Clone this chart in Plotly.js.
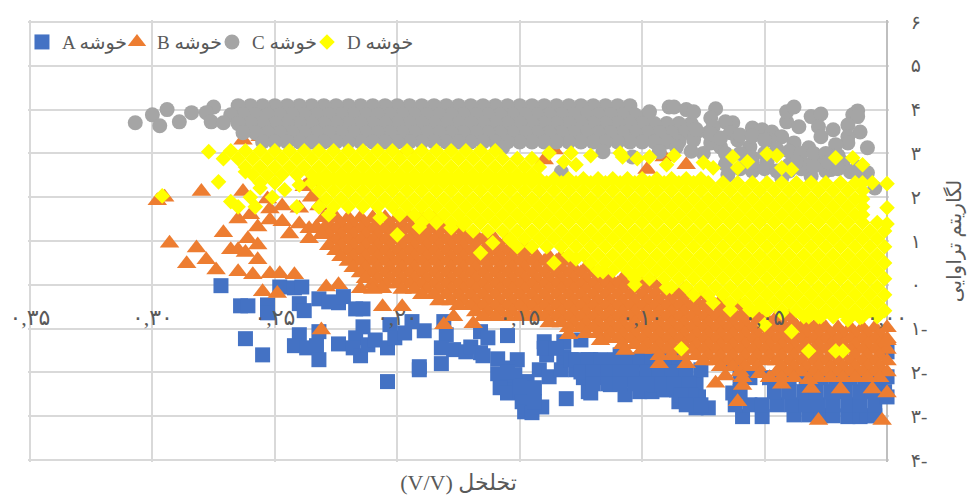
<!DOCTYPE html>
<html><head><meta charset="utf-8">
<script src="https://cdn.plot.ly/plotly-3.0.1.min.js"></script>
<style>html,body{margin:0;padding:0;background:#fff}</style></head>
<body><div id="chart" style="width:969px;height:495px"></div>
<script>
const seriesNames=["A خوشه","B خوشه","C خوشه","D خوشه"];
const xTickVals=[0.35,0.30,0.25,0.20,0.15,0.10,0.05,0];
const xTickText=["۰,۳۵","۰,۳۰","۰,۲۵","۰,۲۰","۰,۱۵","۰,۱۰","۰,۰۵","۰,۰۰"];
const yTickVals=[6,5,4,3,2,1,0,-1,-2,-3,-4];
const yTickText=["۶","۵","۴","۳","۲","۱","۰","۱-","۲-","۳-","۴-"];
const xTitle="(V/V) تخلخل";
const yTitle="لگاریتم تراوایی";

const pointsA=[[.272,-.02],[.264,-.48],[.261,-.48],[.253,-.46],[.253,-.64],[.24,-.43],[.238,-.59],[.232,-.32],[.228,-.39],[.224,-.41],[.222,-.27],[.217,-.55],[.214,-.55],[.248,-.05],[.242,-.07],[.239,-.05],[.24,-1.14],[.232,-1.07],[.262,-1.23],[.255,-1.6],[.242,-1.39],[.237,-1.44],[.233,-1.39],[.232,-1.71],[.224,-1.35],[.214,-.96],[.217,-1.21],[.218,-1.44],[.215,-1.62],[.212,-1.37],[.209,-1.26],[.204,-1.44],[.203,-.91],[.201,-1.21],[.197,-1.1],[.194,-.84],[.189,-1.05],[.191,-1.87],[.191,-1.94],[.182,-1.8],[.204,-2.21],[.18,-1.14],[.182,-1.44],[.181,-.84],[.177,-1.48],[.172,-1.53],[.17,-1.42],[.166,-1.55],[.166,-1.07],[.155,-1.16],[.163,-1.21],[.165,-1.62],[.151,-1.71],[.159,-1.69],[.159,-2.03],[.155,-2.21],[.158,-2.35],[.155,-2.47],[.15,-2.44],[.149,-2.67],[.148,-2.9],[.145,-2.92],[.141,-2.79],[.144,-2.67],[.147,-2.21],[.144,-2.35],[.142,-1.94],[.138,-2.1],[.14,-1.3],[.139,-1.6],[.133,-1.94],[.131,-2.6],[.132,-1.3],[.132,-1.64],[.129,-1.71],[.125,-1.26],[.127,-1.94],[.124,-2.12],[.122,-2.44],[.121,-1.71],[.121,-2.47],[.119,-1.87],[.117,-2.12],[.115,-1.83],[.113,-2.28],[.112,-2.01],[.109,-1.6],[.107,-2.17],[.107,-2.51],[.104,-1.78],[.102,-2.12],[.101,-2.44],[.099,-1.71],[.096,-2.44],[.095,-2.01],[.095,-2.28],[.093,-1.71],[.091,-2.4],[.088,-1.78],[.084,-2.1],[.086,-2.4],[.085,-2.67],[.078,-2.24],[.076,-1.94],[.077,-2.56],[.078,-2.81],[.073,-2.81],[.063,-1.78],[.063,-2.47],[.06,-2.12],
[.127,-1.71],[.122,-1.71],[.117,-1.71],[.111,-1.71],[.106,-1.71],[.101,-1.71],[.096,-1.71],[.09,-1.71],[.085,-1.71],
[.125,-1.99],[.12,-1.99],[.114,-1.99],[.109,-1.99],[.104,-1.99],[.098,-1.99],[.093,-1.99],[.088,-1.99],[.082,-1.99],
[.12,-2.26],[.114,-2.26],[.109,-2.26],[.103,-2.26],[.098,-2.26],[.092,-2.26],[.087,-2.26],[.081,-2.26],
[.08,-2.51],[.084,-2.51],[.082,-2.74],[.076,-2.74],[.14,-1.45],[.135,-1.45],[.155,-1.9],[.152,-2.05],[.15,-2.3],[.155,-2.0],
[.059,-3.01],[.051,-3.01],[.038,-2.97],[.032,-2.97],[.027,-2.99],[.022,-2.99],[.016,-3.01],[.011,-3.01],[.008,-2.99],[.005,-2.99],
[.062,-2.74],[.056,-2.74],[.051,-2.74],[.045,-2.74],[.039,-2.74],[.033,-2.74],[.028,-2.74],[.022,-2.74],[.016,-2.74],[.011,-2.74],[.005,-2.74],
[.06,-2.44],[.046,-2.44],[.04,-2.44],[.034,-2.44],[.029,-2.44],[.023,-2.44],[.017,-2.44],[.011,-2.44],[.006,-2.44],[.001,-2.44],
[.056,-2.12],[.048,-2.12],[.04,-2.12],[.033,-2.12],[.027,-2.12],[.021,-2.12],[.015,-2.12],[.009,-2.12],[.003,-2.12],[0,-2.1],[0,-2.56],[0,-1.53]];

const singlesB=[[.298,1.92],[.295,2.0],[.28,2.13],[.263,2.13],[.293,.95],[.282,.84],[.271,1.19],[.265,1.5],[.26,1.6],[.252,1.73],[.252,1.48],[.247,1.44],[.244,1.16],[.261,1.05],[.257,1.32],[.257,.91],[.24,1.39],[.236,1.28],[.236,1.05],[.233,1.32],[.268,.8],[.265,.8],[.247,1.8],[.253,1.96],[.236,2.35],[.238,2.24],[.231,1.14],[.286,.48],[.278,.57],[.274,.34],[.265,.3],[.259,.23],[.252,.25],[.248,.25],[.242,.23],[.255,-.16],[.249,-.2],[.231,-1.03],[.229,-.05],[.224,0],[.215,-.09],[.206,-.5],[.198,-.5],[.206,-.09],[.21,-.11],[.181,-.91],[.177,-.73],[.169,-.89],[.262,.74],[.257,.57],[.263,3.3],[.256,3.38],[.231,3.24],[.196,3.08],[.136,3.08],[.14,2.85],[.082,2.74],[.098,2.63],[.091,2.92],[.235,2.0],[.24,1.75],[.232,1.8],[.061,-2.67],[.028,-3.1],[.002,-3.1],[.031,-2.37],[.07,-2.25],[.059,-2.3],[.059,-2.12],[.052,-2.03],[.043,-2.27],[.032,-2.17],[.019,-2.38],[.006,-2.38],[0,-2.47],[0,-1.28],[.066,-2.08],[.093,-1.8],[.082,-1.8],[.107,-1.5],[.117,-1.28],[.13,-1.14]];
const rowsB=[
[1.53,[.185,.19,.195,.2,.205,.21,.215,.22,.225,.23]],
[1.39,[.178,.183,.188,.193,.198,.203,.208,.213,.218,.223,.228]],
[1.28,[.175,.18,.185,.19,.195,.2,.205,.21,.215,.22,.225,.23]],
[1.14,[.163,.168,.173,.178,.183,.188,.193,.198,.203,.208,.213,.218,.223,.228]],
[1.03,[.155,.16,.165,.17,.175,.18,.185,.19,.195,.2,.205,.21,.215,.22,.225]],
[.89,[.148,.153,.158,.163,.168,.173,.178,.183,.188,.193,.198,.203,.208,.213,.218,.223,.228]],
[.78,[.145,.15,.155,.16,.165,.17,.175,.18,.185,.19,.195,.2,.205,.21,.215,.22,.225]],
[.64,[.133,.138,.143,.148,.153,.158,.163,.168,.173,.178,.183,.188,.193,.198,.203,.208,.213,.218,.223]],
[.53,[.13,.135,.14,.145,.15,.155,.16,.165,.17,.175,.18,.185,.19,.195,.2,.205,.21,.215,.22]],
[.39,[.123,.128,.133,.138,.143,.148,.153,.158,.163,.168,.173,.178,.183,.188,.193,.198,.203,.208,.213,.218]],
[.27,[.115,.12,.125,.13,.135,.14,.145,.15,.155,.16,.165,.17,.175,.18,.185,.19,.195,.2,.205,.21,.215]],
[.14,[.103,.108,.113,.118,.123,.128,.133,.138,.143,.148,.153,.158,.163,.168,.173,.178,.183,.188,.193,.198,.203,.208,.213]],
[.02,[.095,.1,.105,.11,.115,.12,.125,.13,.135,.14,.145,.15,.155,.16,.165,.17,.175,.18,.185,.19,.195,.2,.205,.21]],
[-.11,[.083,.088,.093,.098,.103,.108,.113,.118,.123,.128,.133,.138,.143,.148,.153,.158,.163,.168,.173,.178,.183,.188,.193,.198]],
[-.23,[.075,.08,.085,.09,.095,.1,.105,.11,.115,.12,.125,.13,.135,.14,.145,.15,.155,.16,.165,.17,.175,.18,.185,.19]],
[-.37,[.068,.073,.078,.083,.088,.093,.098,.103,.108,.113,.118,.123,.128,.133,.138,.143,.148,.153,.158,.163,.168,.173,.178,.183]],
[-.48,[.06,.065,.07,.075,.08,.085,.09,.095,.1,.105,.11,.115,.12,.125,.13,.135,.14,.145,.15,.155,.16,.165,.17,.175]],
[-.62,[.053,.058,.063,.068,.073,.078,.083,.088,.093,.098,.103,.108,.113,.118,.123,.128,.133,.138,.143,.148,.153,.158,.163,.168]],
[-.73,[.04,.045,.05,.055,.06,.065,.07,.075,.08,.085,.09,.095,.1,.105,.11,.115,.12,.125,.13,.135,.14,.145,.15,.155,.16,.165]],
[-.87,[.028,.033,.038,.043,.048,.053,.058,.063,.068,.073,.078,.083,.088,.093,.098,.103,.108,.113,.118,.123,.128,.133,.138]],
[-.98,[0,.005,.01,.015,.02,.025,.03,.035,.04,.045,.05,.055,.06,.065,.07,.075,.08,.085,.09,.095,.1,.105,.11,.115,.12,.125,.13]],
[-1.12,[.003,.008,.013,.018,.023,.028,.033,.038,.043,.048,.053,.058,.063,.068,.073,.078,.083,.088,.093,.098,.103,.108,.113,.118,.123]],
[-1.23,[0,.005,.01,.015,.02,.025,.03,.035,.04,.045,.05,.055,.06,.065,.07,.075,.08,.085,.09,.095,.1,.105,.11,.115]],
[-1.37,[.003,.008,.013,.018,.023,.028,.033,.038,.043,.048,.053,.058,.063,.068,.073,.078,.083,.088,.093,.098,.103,.108]],
[-1.48,[0,.005,.01,.015,.02,.025,.03,.035,.04,.045,.05,.055,.06,.065,.07,.075,.08,.085,.09,.095,.1]],
[-1.62,[.003,.008,.013,.018,.023,.028,.033,.038,.043,.048,.053,.058,.063,.068,.073,.078,.083,.088,.093]],
[-1.74,[0,.005,.01,.015,.02,.025,.03,.035,.04,.045,.05,.055,.06,.065,.07,.075]],
[-1.87,[.003,.008,.013,.018,.023,.028,.033,.038,.043,.053,.058,.063,.068]],
[-1.99,[0,.005,.01,.015,.02,.025,.03,.035,.04,.045,.06]],
[-2.12,[.003,.008,.013,.018,.023,.028,.038,.043,.048]]];

const singlesC=[[.307,3.7],[.3,3.88],[.297,3.63],[.294,4.0],[.289,3.72],[.284,3.93],[.275,4.06],[.278,3.93],[.276,3.72],[.271,3.7],[.089,4.06],[.087,4.06],[.082,4],[.079,3.95],[.07,4.02],[.072,3.81],[.063,3.7],[.066,3.72],[.071,3.61],[.064,3.47],[.055,3.58],[.051,3.54],[.047,3.49],[.043,3.38],[.038,3.24],[.041,3.72],[.036,3.61],[.041,3.95],[.038,4.06],[.031,3.84],[.027,3.9],[.028,3.61],[.027,3.38],[.022,3.54],[.032,3.13],[.012,3.97],[.014,3.88],[.012,3.84],[.016,3.65],[.011,3.49],[.016,3.38],[.016,3.24],[.021,3.2],[.008,3.13],[.037,2.9],[.032,2.74],[.027,2.79],[.018,2.79],[.012,2.69],[.008,2.56],[.005,2.21],[.031,2.47],[.043,2.44],[.065,2.51],[.049,2.79],[.072,3.24],[.079,3.31],[.086,3.15],[.093,3.04],[.104,2.92],[.116,3.04],[.157,3.13],[.133,2.58],[.068,3.15],[.056,3.15],[.061,3.31],[.048,3.31],[.097,3.95],[.04,2.74],[.023,2.63],[.015,2.58],
[.072,3.45],[.078,3.55],[.068,3.35],[.06,3.42],[.055,3.4],[.05,3.3],[.066,3.0],[.06,3.0],[.055,2.9],[.045,3.1],[.04,3.05],[.035,3.0],[.03,3.0],[.025,3.0],[.02,2.95],[.05,3.0],[.075,3.0],[.08,3.05],
[.06,2.65],[.055,2.6],[.05,2.65],[.045,2.6],[.04,2.6],[.035,2.65],[.03,2.7],[.025,2.6],[.02,2.65],[.012,2.55],[.066,2.75],[.055,2.8],[.037,2.8],[.024,2.8]];
const rowsC=[
[4.09,[.105,.11,.115,.12,.125,.13,.135,.14,.145,.15,.155,.16,.165,.17,.175,.18,.185,.19,.195,.2,.205,.21,.215,.22,.225,.23,.235,.24,.245,.25,.255,.26,.265]],
[3.88,[.098,.103,.108,.113,.118,.123,.128,.133,.138,.143,.148,.153,.158,.163,.168,.173,.178,.183,.188,.193,.198,.203,.208,.213,.218,.223,.228,.233,.238,.243,.248,.253,.258,.263,.268]],
[3.68,[.08,.085,.09,.095,.1,.105,.11,.115,.12,.125,.13,.135,.14,.145,.15,.155,.16,.165,.17,.175,.18,.185,.19,.195,.2,.205,.21,.215,.22,.225,.23,.235,.24,.245,.25,.255,.26,.265]],
[3.47,[.073,.078,.083,.088,.093,.098,.103,.108,.113,.118,.123,.128,.133,.138,.143,.148,.153,.158,.163,.168,.173,.178,.183,.188,.193,.198,.203,.208,.213,.218,.223,.228,.233,.238,.243,.248,.253,.258,.263]],
[3.26,[.085,.09,.095,.1,.105,.11,.115,.12,.125,.13,.135,.14,.145,.15,.155,.16,.165,.17,.175,.18,.185,.19,.195,.2,.205,.21,.215,.22,.225,.23,.235,.24,.245,.25,.255]]];

const singlesD=[[.296,2.03],[.277,3.04],[.273,2.35],[.268,1.9],[.265,1.78],[.258,1.78],[.26,2.0],[.251,2.0],[.256,2.21],[.241,1.78],[.262,2.58],[.246,2.17],[.24,2.28],[.2,1.14],[.228,1.6],[.207,1.53],[.191,1.32],[.178,1.3],[.173,1.37],[.166,.73],[.161,.96],[.154,1.03],[.127,.59],[.136,.5],[.116,.3],[.103,.23],[.103,0],[.09,-.07],[.071,-.41],[.064,-.57],[.056,-.57],[.051,-.5],[.05,-.91],[.043,-.64],[.039,-1.07],[.032,-.73],[.027,-.73],[.084,-1.46],[.032,-1.51],[.021,-1.51],[.018,-1.51],[.016,-.8],[.011,-.75],[.138,3.01],[.132,2.81],[.129,3.01],[.121,2.95],[.127,2.74],[.109,3.01],[.108,2.92],[.102,2.88],[.097,2.92],[.087,2.95],[.09,2.74],[.075,2.79],[.071,2.67],[.063,2.92],[.061,2.67],[.057,2.81],[.049,2.99],[.045,2.95],[.043,2.67],[.039,2.63],[.021,2.9],[.014,2.9],[.01,2.74],[.006,2.33],[0,2.31],[0,1.76],[0,1.39]];
const rowsD=[
[3.06,[.16,.166,.172,.178,.184,.19,.196,.202,.208,.214,.22,.226,.232,.238,.244,.25,.256,.262,.268]],
[2.88,[.145,.151,.157,.163,.169,.175,.181,.187,.193,.199,.205,.211,.217,.223,.229,.235,.241,.247,.253,.259,.265,.271]],
[2.69,[.142,.148,.154,.16,.166,.172,.178,.184,.19,.196,.202,.208,.214,.22,.226,.232,.238,.244,.25,.256,.262]],
[2.51,[.145,.151,.157,.163,.169,.175,.181,.187,.193,.199,.205,.211,.217,.223,.229,.235,.241,.247,.253,.259]],
[2.42,[.076,.082,.088,.094,.1,.106,.112,.118,.124,.13,.136,.142,.148,.154,.16,.166,.172,.178,.184,.19,.196,.202,.208,.214,.22,.226,.232]],
[2.33,[.01,.013,.019,.025,.031,.037,.043,.049,.055,.061,.067,.073,.079,.085,.091,.097,.103,.109,.115,.121,.127,.133,.139,.145,.151,.157,.163,.169,.175,.181,.187,.193,.199,.205,.211,.217,.223,.229,.235,.25,.256]],
[2.15,[.01,.016,.022,.028,.034,.04,.046,.052,.058,.064,.07,.076,.082,.088,.094,.1,.106,.112,.118,.124,.13,.136,.142,.148,.154,.16,.166,.172,.178,.184,.19,.196,.202,.208,.214,.22,.226,.232]],
[1.96,[.01,.013,.019,.025,.031,.037,.043,.049,.055,.061,.067,.073,.079,.085,.091,.097,.103,.109,.115,.121,.127,.133,.139,.145,.151,.157,.163,.169,.175,.181,.187,.193,.199,.205,.211,.217,.223,.229]],
[1.78,[.01,.016,.022,.028,.034,.04,.046,.052,.058,.064,.07,.076,.082,.088,.094,.1,.106,.112,.118,.124,.13,.136,.142,.148,.154,.16,.166,.172,.178,.184,.19,.196,.202,.208,.214,.22,.226,.232]],
[1.6,[.01,.013,.019,.025,.031,.037,.043,.049,.055,.061,.067,.073,.079,.085,.091,.097,.103,.109,.115,.121,.127,.133,.139,.145,.151,.157,.163,.169,.175,.181,.187,.193,.199]],
[1.42,[.004,.01,.016,.022,.028,.034,.04,.046,.052,.058,.064,.07,.076,.082,.088,.094,.1,.106,.112,.118,.124,.13,.136,.142,.148,.154,.16,.166,.172,.178,.184,.19]],
[1.23,[.001,.007,.013,.019,.025,.031,.037,.043,.049,.055,.061,.067,.073,.079,.085,.091,.097,.103,.109,.115,.121,.127,.133,.139,.145,.151,.157,.163,.169]],
[1.05,[.004,.01,.016,.022,.028,.034,.04,.046,.052,.058,.064,.07,.076,.082,.088,.094,.1,.106,.112,.118,.124,.13,.136,.142,.148,.154]],
[.87,[.001,.007,.013,.019,.025,.031,.037,.043,.049,.055,.061,.067,.073,.079,.085,.091,.097,.103,.109,.115,.121,.127,.133,.139,.145,.151]],
[.68,[.004,.01,.016,.022,.028,.034,.04,.046,.052,.058,.064,.07,.076,.082,.088,.094,.1,.106,.112,.118,.124,.13]],
[.5,[.001,.007,.013,.019,.025,.031,.037,.043,.049,.055,.061,.067,.073,.079,.085,.091,.097,.103,.109,.115,.121]],
[.32,[.004,.01,.016,.022,.028,.034,.04,.046,.052,.058,.064,.07,.076,.082,.088,.094,.1,.106,.112,.118]],
[.14,[.001,.007,.013,.019,.025,.031,.037,.043,.049,.055,.061,.067,.073,.079,.085,.091,.097,.103]],
[-.05,[.004,.01,.016,.022,.028,.034,.04,.046,.052,.058,.064,.07,.076,.082,.088]],
[-.23,[.001,.007,.013,.019,.025,.031,.037,.043,.049,.055,.061,.067,.073,.079]],
[-.41,[.004,.01,.016,.022,.028,.034,.04,.046,.052,.058,.064]],
[-.59,[.001,.007,.013,.019,.025,.031,.037,.043,.049,.055]],
[-.73,[.004,.01,.016,.022,.028,.034]]];

const expand=(rows)=>rows.flatMap(([y,xs])=>xs.map(x=>[x,y]));
const toTrace=(pts,name,symbol,size,color)=>({type:'scatter',mode:'markers',name,cliponaxis:false,
  x:pts.map(p=>p[0]),y:pts.map(p=>p[1]),marker:{symbol,size,color,line:{width:0}}});
const traces=[
 toTrace(pointsA,seriesNames[0],'square',15,'#4472c4'),
 toTrace(expand(rowsB).concat(singlesB),seriesNames[1],'triangle-up',17,'#ed7d31'),
 toTrace(expand(rowsC).concat(singlesC),seriesNames[2],'circle',15,'#a5a5a5'),
 toTrace(expand(rowsD).concat(singlesD),seriesNames[3],'diamond',12,'#ffff00')];
const textFont={family:'"Liberation Serif","DejaVu Serif","DejaVu Sans",serif',size:19,color:'#595959'};
const layout={width:969,height:495,margin:{l:28,r:80,t:20,b:33},paper_bgcolor:'#fff',plot_bgcolor:'#fff',
 font:textFont,showlegend:true,
 legend:{orientation:'h',x:-0.007,xanchor:'left',y:0.993,yanchor:'top',bgcolor:'rgba(0,0,0,0)',font:textFont,
   entrywidth:50,entrywidthmode:'pixels',itemwidth:30,traceorder:'normal',tracegroupgap:0},
 xaxis:{range:[0.3508,-0.0008],tickmode:'array',tickvals:xTickVals,ticktext:xTickText,anchor:'free',position:0.362,layer:'above traces',
   showgrid:true,gridcolor:'#d9d9d9',gridwidth:2,zeroline:true,zerolinecolor:'#bfbfbf',zerolinewidth:2,showline:false,ticks:'',tickangle:0,
   tickfont:{...textFont,size:22},title:{text:xTitle,font:{...textFont,size:22},standoff:152}},
 yaxis:{range:[-4.046,6.046],side:'right',tickmode:'array',tickvals:yTickVals,ticktext:yTickText,layer:'above traces',
   showgrid:true,gridcolor:'#d9d9d9',gridwidth:2,zeroline:false,showline:false,
   ticks:'outside',ticklen:17,tickcolor:'rgba(0,0,0,0)',tickfont:{...textFont,size:19},
   title:{text:yTitle,font:{...textFont,size:20},standoff:20}}};
Plotly.newPlot('chart',traces,layout,{displayModeBar:false,staticPlot:true}).then(()=>{
  document.querySelectorAll('.legend .scrollbox').forEach(n=>n.removeAttribute('clip-path'));
});
</script></body></html>
